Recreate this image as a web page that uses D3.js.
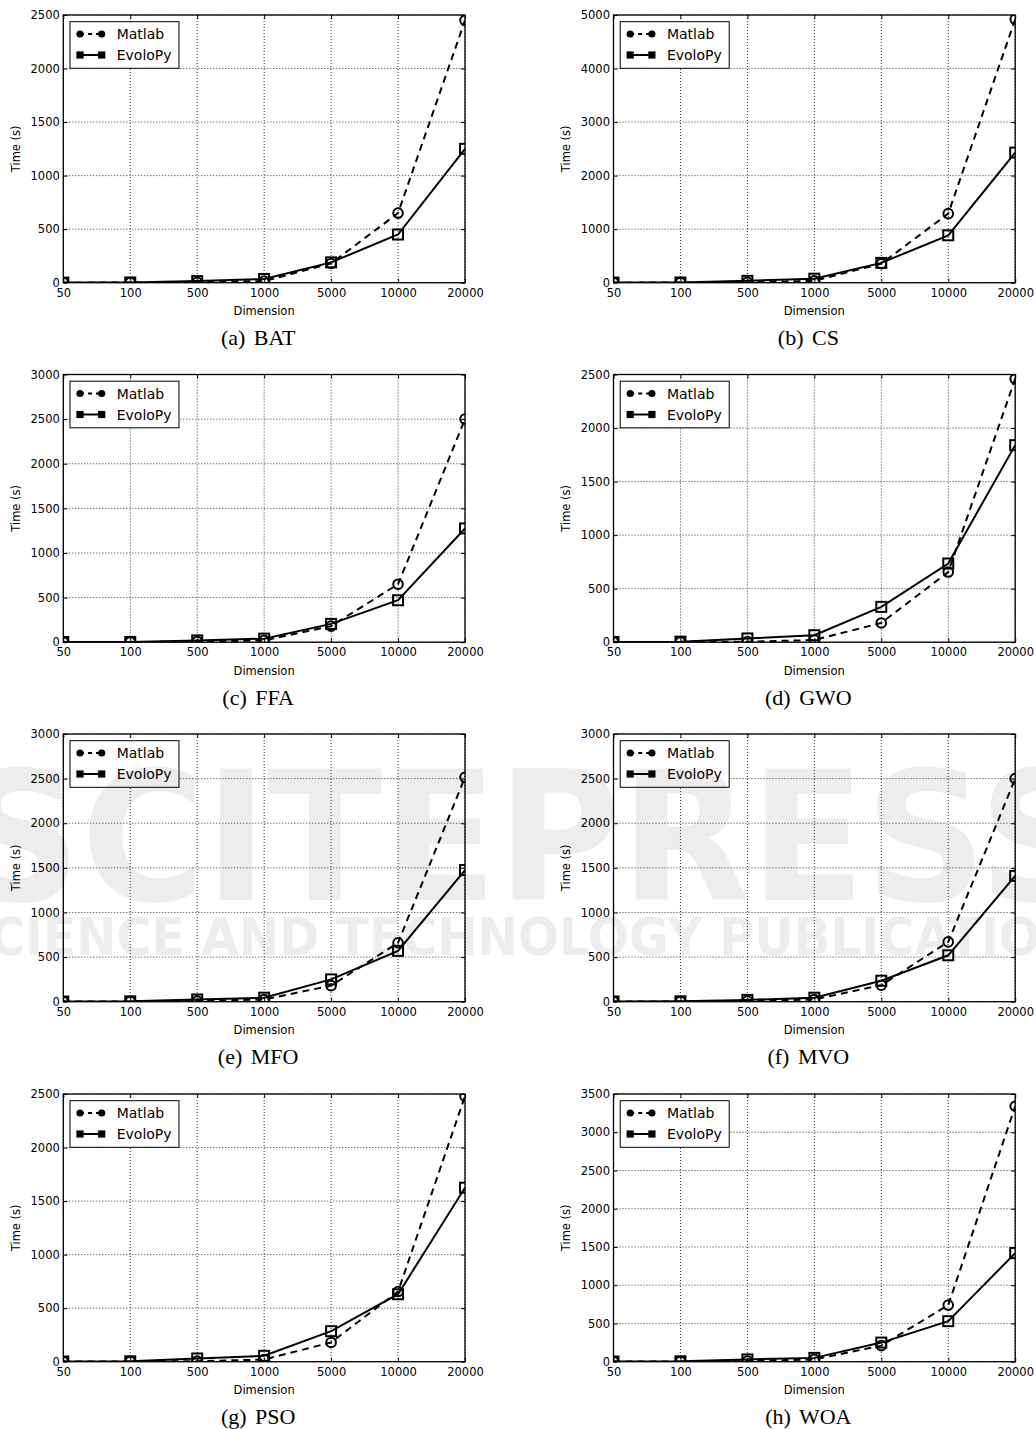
<!DOCTYPE html>
<html>
<head>
<meta charset="utf-8">
<title>Matlab vs EvoloPy run time</title>
<script src="https://cdn.jsdelivr.net/npm/d3@7"></script>
<style>
    html, body { margin: 0; padding: 0; background: #fff; }
    svg { display: block; }
</style>
</head>
<body>
<div id="figure-container"></div>
<script>
// run-time-figure
// Eight small line charts: run time of Matlab vs EvoloPy per optimiser and dimension



// DATA ___________________________________________________________
const DIMENSIONS = ['50', '100', '500', '1000', '5000', '10000', '20000'];
const PANEL_TITLES = ['(a) BAT', '(b) CS', '(c) FFA', '(d) GWO', '(e) MFO', '(f) MVO', '(g) PSO', '(h) WOA'];
const Y_MAX = [2500, 5000, 3000, 2500, 3000, 3000, 2500, 3500];
const Y_STEP = [500, 1000, 500, 500, 500, 500, 500, 500];
const SERIES_NAMES = ['Matlab', 'EvoloPy'];

// Time (s) per dimension
const MATLAB_BAT = [0.5, 1, 4, 15, 180, 650, 2450];
const EVOLOPY_BAT = [1, 2, 15, 35, 190, 450, 1250];
const MATLAB_CS = [1, 2, 8, 35, 355, 1290, 4920];
const EVOLOPY_CS = [2, 4, 35, 75, 370, 885, 2430];
const MATLAB_FFA = [1, 2, 6, 20, 180, 650, 2500];
const EVOLOPY_FFA = [2, 3, 20, 40, 205, 470, 1275];
const MATLAB_GWO = [1, 2, 5, 20, 180, 655, 2460];
const EVOLOPY_GWO = [2, 5, 35, 65, 330, 735, 1840];
const MATLAB_MFO = [1, 2, 8, 25, 180, 660, 2515];
const EVOLOPY_MFO = [2, 4, 25, 45, 250, 570, 1475];
const MATLAB_MVO = [1, 2, 6, 25, 185, 670, 2500];
const EVOLOPY_MVO = [2, 4, 20, 45, 235, 520, 1410];
const MATLAB_PSO = [1, 2, 5, 20, 180, 655, 2480];
const EVOLOPY_PSO = [2, 4, 30, 55, 285, 630, 1625];
const MATLAB_WOA = [1, 2, 8, 30, 210, 740, 3340];
const EVOLOPY_WOA = [2, 5, 30, 50, 250, 530, 1420];

const MATLAB_TIMES = [MATLAB_BAT, MATLAB_CS, MATLAB_FFA, MATLAB_GWO, MATLAB_MFO, MATLAB_MVO, MATLAB_PSO, MATLAB_WOA];
const EVOLOPY_TIMES = [EVOLOPY_BAT, EVOLOPY_CS, EVOLOPY_FFA, EVOLOPY_GWO, EVOLOPY_MFO, EVOLOPY_MVO, EVOLOPY_PSO, EVOLOPY_WOA];
//________________________________________________________________________________________



// LAYOUT ___________________________________________________________
const FIG_W = 1036;
const FIG_H = 1429;
const COL_LEFT = [63.3, 613.5];
const ROW_TOP = [15, 374.5, 734, 1094];
const PLOT_W = 401.7;
const PLOT_H = 267.7;

const SANS = '"DejaVu Sans", sans-serif';
const SERIF = '"Liberation Serif", "Times New Roman", serif';
const TICK_FONT = 11.5;
const LEGEND_FONT = 14;
const CAPTION_FONT = 22;
//________________________________________________________________________________________



// PANEL ___________________________________________________________
/**
 * Draws one sub-chart (grid, axes, two series, legend, caption)
 *
 * @param {Object} svg - d3 selection of the root svg
 * @param {Number} i - panel index 0..7
 */
function drawPanel(svg, i) {
    console.debug('drawPanel()', i);

    const left = COL_LEFT[i % 2];
    const top = ROW_TOP[Math.floor(i / 2)];
    const g = svg.append('g').attr('transform', `translate(${left},${top})`);

    const xScale = d3.scalePoint().domain(DIMENSIONS).range([0, PLOT_W]);
    const yScale = d3.scaleLinear().domain([0, Y_MAX[i]]).range([PLOT_H, 0]);
    const yTicks = d3.range(0, Y_MAX[i] + 1, Y_STEP[i]);

    // clip so markers on the frame are cut like in matplotlib
    svg.select('defs').append('clipPath')
        .attr('id', `clip-${i}`)
        .append('rect')
        .attr('width', PLOT_W)
        .attr('height', PLOT_H);

    g.append('rect')
        .attr('width', PLOT_W)
        .attr('height', PLOT_H)
        .attr('fill', '#fff');

    // Dotted grid------------------------------------------------------------
    const grid = g.append('g')
        .attr('stroke', '#000')
        .attr('stroke-width', 0.8)
        .attr('stroke-dasharray', '1,2');
    grid.selectAll('.vgrid')
        .data(DIMENSIONS)
        .join('line')
        .attr('class', 'vgrid')
        .attr('x1', d => xScale(d)).attr('x2', d => xScale(d))
        .attr('y1', 0).attr('y2', PLOT_H);
    grid.selectAll('.hgrid')
        .data(yTicks)
        .join('line')
        .attr('class', 'hgrid')
        .attr('x1', 0).attr('x2', PLOT_W)
        .attr('y1', d => yScale(d)).attr('y2', d => yScale(d));
    //-------------------------------------------------------------------------

    // Series lines and hollow markers------------------------------------------
    const series = [
        {name: SERIES_NAMES[0], values: MATLAB_TIMES[i], dash: '7,5', marker: 'circle'},
        {name: SERIES_NAMES[1], values: EVOLOPY_TIMES[i], dash: null, marker: 'square'}
    ];
    const line = d3.line()
        .x(d => xScale(d.dim))
        .y(d => yScale(d.value));

    const plot = g.append('g').attr('clip-path', `url(#clip-${i})`);
    series.forEach(function(s) {
        const points = DIMENSIONS.map((dim, k) => ({dim: dim, value: s.values[k]}));
        plot.append('path')
            .datum(points)
            .attr('d', line)
            .attr('fill', 'none')
            .attr('stroke', '#000')
            .attr('stroke-width', 2)
            .attr('stroke-dasharray', s.dash);
        if (s.marker === 'circle') {
            plot.selectAll(null)
                .data(points)
                .join('circle')
                .attr('cx', d => xScale(d.dim))
                .attr('cy', d => yScale(d.value))
                .attr('r', 4.8)
                .attr('fill', 'none')
                .attr('stroke', '#000')
                .attr('stroke-width', 2);
        } else {
            plot.selectAll(null)
                .data(points)
                .join('rect')
                .attr('x', d => xScale(d.dim) - 5)
                .attr('y', d => yScale(d.value) - 5)
                .attr('width', 10)
                .attr('height', 10)
                .attr('fill', 'none')
                .attr('stroke', '#000')
                .attr('stroke-width', 2);
        }
    });
    //-------------------------------------------------------------------------

    // Axes with inward ticks on all four sides-------------------------------
    g.append('g')
        .attr('transform', `translate(0,${PLOT_H})`)
        .call(d3.axisBottom(xScale).tickSizeInner(-4).tickSizeOuter(0).tickPadding(5.8))
        .call(a => a.select('.domain').remove())
        .attr('font-family', SANS)
        .attr('font-size', TICK_FONT);
    g.append('g')
        .call(d3.axisLeft(yScale).tickValues(yTicks).tickFormat(d3.format('d'))
            .tickSizeInner(-4).tickSizeOuter(0).tickPadding(3.5))
        .call(a => a.select('.domain').remove())
        .attr('font-family', SANS)
        .attr('font-size', TICK_FONT);
    g.append('g')
        .call(d3.axisTop(xScale).tickSizeInner(-4).tickSizeOuter(0).tickFormat(''))
        .call(a => a.select('.domain').remove());
    g.append('g')
        .attr('transform', `translate(${PLOT_W},0)`)
        .call(d3.axisRight(yScale).tickValues(yTicks).tickSizeInner(-4).tickSizeOuter(0).tickFormat(''))
        .call(a => a.select('.domain').remove());
    g.selectAll('.tick line').attr('stroke-width', 1);

    g.append('rect')
        .attr('width', PLOT_W)
        .attr('height', PLOT_H)
        .attr('fill', 'none')
        .attr('stroke', '#000')
        .attr('stroke-width', 1.3);
    //-------------------------------------------------------------------------

    // Axis labels and caption
    g.append('text')
        .attr('x', PLOT_W / 2)
        .attr('y', PLOT_H + 32.3)
        .attr('text-anchor', 'middle')
        .attr('font-family', SANS)
        .attr('font-size', TICK_FONT)
        .text('Dimension');
    g.append('text')
        .attr('transform', `translate(-43.8,${PLOT_H / 2}) rotate(-90)`)
        .attr('text-anchor', 'middle')
        .attr('font-family', SANS)
        .attr('font-size', TICK_FONT)
        .text('Time (s)');
    g.append('text')
        .attr('x', PLOT_W / 2 - 6)
        .attr('y', PLOT_H + 62.6)
        .attr('text-anchor', 'middle')
        .attr('font-family', SERIF)
        .attr('font-size', CAPTION_FONT)
        .attr('word-spacing', 3)
        .text(PANEL_TITLES[i]);

    drawLegend(g, series);
}
//________________________________________________________________________________________



// LEGEND ___________________________________________________________
/**
 * Legend box in the upper left corner, markers are filled here
 */
function drawLegend(g, series) {
    const legend = g.append('g').attr('transform', 'translate(6.7,6.7)');
    legend.append('rect')
        .attr('width', 109)
        .attr('height', 46.6)
        .attr('fill', '#fff')
        .attr('stroke', '#000')
        .attr('stroke-width', 1);

    series.forEach(function(s, k) {
        const row = legend.append('g').attr('transform', `translate(0,${12.3 + k * 21})`);
        row.append('line')
            .attr('x1', 10).attr('x2', 31.7)
            .attr('stroke', '#000')
            .attr('stroke-width', 2)
            .attr('stroke-dasharray', s.dash ? '4,4' : null);
        [10, 31.7].forEach(function(mx) {
            if (s.marker === 'circle') {
                row.append('circle').attr('cx', mx).attr('r', 3.6).attr('fill', '#000');
            } else {
                row.append('rect').attr('x', mx - 3.6).attr('y', -3.6)
                    .attr('width', 7.2).attr('height', 7.2).attr('fill', '#000');
            }
        });
        row.append('text')
            .attr('x', 46.7)
            .attr('dy', '0.36em')
            .attr('font-family', SANS)
            .attr('font-size', LEGEND_FONT)
            .text(s.name);
    });
}
//________________________________________________________________________________________



// WATERMARK ___________________________________________________________
// faint publisher mark lying over the middle rows
function drawWatermark(svg) {
    const wm = svg.append('g')
        .attr('fill', '#000')
        .attr('fill-opacity', 0.07)
        .attr('font-family', SANS)
        .attr('font-weight', 'bold');
    wm.append('text')
        .attr('x', -40)
        .attr('y', 900)
        .attr('font-size', 180)
        .attr('textLength', 1140)
        .attr('lengthAdjust', 'spacingAndGlyphs')
        .text('SCITEPRESS');
    wm.append('text')
        .attr('x', -45)
        .attr('y', 955)
        .attr('font-size', 52)
        .attr('textLength', 1160)
        .attr('lengthAdjust', 'spacingAndGlyphs')
        .text('SCIENCE AND TECHNOLOGY PUBLICATIONS');
}
//________________________________________________________________________________________



// MAIN ___________________________________________________________
const svg = d3.select('#figure-container')
    .append('svg')
    .attr('width', FIG_W)
    .attr('height', FIG_H);
svg.append('defs');

PANEL_TITLES.forEach(function(title, i) {
    drawPanel(svg, i);
});
drawWatermark(svg);
//________________________________________________________________________________________
</script>
</body>
</html>
